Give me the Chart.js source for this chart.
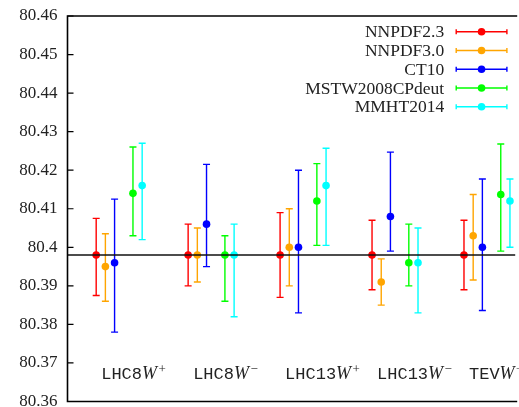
<!DOCTYPE html>
<html>
<head>
<meta charset="utf-8">
<script src="https://cdn.jsdelivr.net/npm/chart.js@4.4.1/dist/chart.umd.min.js"></script>
<style>
  html, body { margin: 0; padding: 0; background: #fff; overflow: hidden; }
  #wrap { width: 519px; height: 407px; }
</style>
</head>
<body>
<div id="wrap"><canvas id="mwChart" width="519" height="407"></canvas></div>
<script>
// categories (observable) and their charge superscripts
const categories = ["LHC8", "LHC8", "LHC13", "LHC13", "TEV"];
const charges = ["+", "\u2212", "+", "\u2212", "+"];

// PDF sets
const series = ["NNPDF2.3", "NNPDF3.0", "CT10", "MSTW2008CPdeut", "MMHT2014"];
const colors = ["#ff0000", "#ffa500", "#0000ff", "#00ff00", "#00ffff"];

// central values, lower and upper ends of the error bars (GeV)
const nnpdf23 = [80.398, 80.398, 80.398, 80.398, 80.398];
const nnpdf23Lo = [80.3875, 80.390, 80.387, 80.389, 80.389];
const nnpdf23Hi = [80.4075, 80.406, 80.409, 80.407, 80.407];

const nnpdf30 = [80.395, 80.398, 80.400, 80.391, 80.403];
const nnpdf30Lo = [80.386, 80.391, 80.390, 80.385, 80.3915];
const nnpdf30Hi = [80.4035, 80.405, 80.410, 80.397, 80.4137];

const ct10 = [80.396, 80.406, 80.400, 80.408, 80.400];
const ct10Lo = [80.378, 80.395, 80.383, 80.399, 80.3836];
const ct10Hi = [80.4125, 80.4215, 80.420, 80.4247, 80.4177];

const mstw = [80.414, 80.398, 80.412, 80.396, 80.4137];
const mstwLo = [80.403, 80.386, 80.4005, 80.390, 80.399];
const mstwHi = [80.426, 80.403, 80.4217, 80.406, 80.4268];

const mmht = [80.416, 80.398, 80.416, 80.396, 80.412];
const mmhtLo = [80.402, 80.382, 80.4005, 80.383, 80.400];
const mmhtHi = [80.427, 80.406, 80.4257, 80.405, 80.4177];

// reference W mass line
const mwRef = 80.398;

const centrals = [nnpdf23, nnpdf30, ct10, mstw, mmht];
const lows = [nnpdf23Lo, nnpdf30Lo, ct10Lo, mstwLo, mmhtLo];
const highs = [nnpdf23Hi, nnpdf30Hi, ct10Hi, mstwHi, mmhtHi];

// horizontal offset of each set inside a group
const offsets = [0, 0.1, 0.2, 0.4, 0.5];

const serif = "'Liberation Serif', 'Times New Roman', serif";
const capHalf = 3.5;

// error bars drawn under the dots
const errorBars = {
  id: "errorBars",
  beforeDatasetsDraw(chart) {
    const { ctx, scales: { x, y } } = chart;
    chart.data.datasets.forEach((ds) => {
      ctx.save();
      ctx.strokeStyle = ds.borderColor;
      ctx.lineWidth = 1.4;
      ds.data.forEach((p, i) => {
        const px = x.getPixelForValue(p.x);
        const top = y.getPixelForValue(ds.hi[i]);
        const bot = y.getPixelForValue(ds.lo[i]);
        ctx.beginPath();
        ctx.moveTo(px, top); ctx.lineTo(px, bot);
        ctx.moveTo(px - capHalf, top); ctx.lineTo(px + capHalf, top);
        ctx.moveTo(px - capHalf, bot); ctx.lineTo(px + capHalf, bot);
        ctx.stroke();
      });
      ctx.restore();
    });
  }
};

// frame, inward ticks, reference line, group labels, legend
const decorations = {
  id: "decorations",
  afterDatasetsDraw(chart) {
    const { ctx, chartArea: a, scales: { x, y } } = chart;
    ctx.save();

    // reference line
    const yr = y.getPixelForValue(mwRef);
    ctx.strokeStyle = "#111";
    ctx.lineWidth = 1.5;
    ctx.beginPath();
    ctx.moveTo(a.left, yr); ctx.lineTo(a.right, yr);
    ctx.stroke();

    // frame
    ctx.strokeStyle = "#000";
    ctx.lineWidth = 1.6;
    ctx.beginPath();
    ctx.moveTo(a.right + 2, a.top); ctx.lineTo(a.left, a.top);
    ctx.lineTo(a.left, a.bottom); ctx.lineTo(a.right + 2, a.bottom);
    ctx.stroke();

    // inward y ticks
    ctx.lineWidth = 1.2;
    ctx.beginPath();
    y.ticks.forEach((t) => {
      const py = y.getPixelForValue(t.value);
      ctx.moveTo(a.left, py); ctx.lineTo(a.left + 6, py);
    });
    ctx.stroke();

    // group labels
    ctx.fillStyle = "#222";
    ctx.textBaseline = "alphabetic";
    ctx.textAlign = "left";
    const base = a.bottom - 22.5;
    categories.forEach((c, i) => {
      let px = x.getPixelForValue(i) + 5;
      ctx.font = "17px 'Liberation Mono', monospace";
      ctx.fillText(c, px, base);
      px += ctx.measureText(c).width;
      ctx.font = "italic 18px " + serif;
      ctx.fillText("W", px, base);
      px += ctx.measureText("W").width + 1.5;
      ctx.font = "13px " + serif;
      ctx.fillText(charges[i], px, base - 6);
    });

    // legend
    const rowTop = a.top + 15.7;
    const rowStep = 18.75;
    const textRight = a.right - 71;
    const sx0 = a.right - 59, sx1 = a.right - 8.3, sxm = (sx0 + sx1) / 2;
    ctx.font = "17.5px " + serif;
    ctx.textAlign = "right";
    ctx.textBaseline = "middle";
    series.forEach((name, s) => {
      const ry = rowTop + s * rowStep;
      ctx.fillStyle = "#222";
      ctx.fillText(name, textRight, ry + 1);
      ctx.strokeStyle = colors[s];
      ctx.lineWidth = 1.4;
      ctx.beginPath();
      ctx.moveTo(sx0, ry); ctx.lineTo(sx1, ry);
      ctx.moveTo(sx0, ry - 2.5); ctx.lineTo(sx0, ry + 2.5);
      ctx.moveTo(sx1, ry - 2.5); ctx.lineTo(sx1, ry + 2.5);
      ctx.stroke();
      ctx.fillStyle = colors[s];
      ctx.beginPath();
      ctx.arc(sxm, ry, 3.8, 0, Math.PI * 2);
      ctx.fill();
    });

    ctx.restore();
  }
};

const mwChart = new Chart(document.getElementById("mwChart"), {
  type: "scatter",
  data: {
    datasets: series.map((name, s) => ({
      label: name,
      data: centrals[s].map((v, i) => ({ x: i + offsets[s], y: v })),
      lo: lows[s],
      hi: highs[s],
      backgroundColor: colors[s],
      borderColor: colors[s],
      borderWidth: 0,
      pointRadius: 3.8,
      pointHoverRadius: 3.8
    }))
  },
  options: {
    responsive: false,
    animation: false,
    devicePixelRatio: 1,
    layout: { padding: { top: 16, right: 0, bottom: 5.5, left: 0 } },
    plugins: {
      legend: { display: false },
      tooltip: { enabled: false }
    },
    scales: {
      x: { type: "linear", min: -0.312, max: 4.557, display: false },
      y: {
        min: 80.36,
        max: 80.46,
        afterFit(scale) {
          scale.width = 67.5;
          scale.paddingTop = 0;
          scale.paddingBottom = 0;
        },
        grid: { display: false, drawTicks: false },
        border: { display: false },
        ticks: {
          stepSize: 0.01,
          autoSkip: false,
          padding: 10,
          color: "#222",
          font: { family: "Liberation Serif", size: 17 },
          callback: (v) => String(parseFloat(v.toFixed(2)))
        }
      }
    }
  },
  plugins: [errorBars, decorations]
});
</script>
</body>
</html>
